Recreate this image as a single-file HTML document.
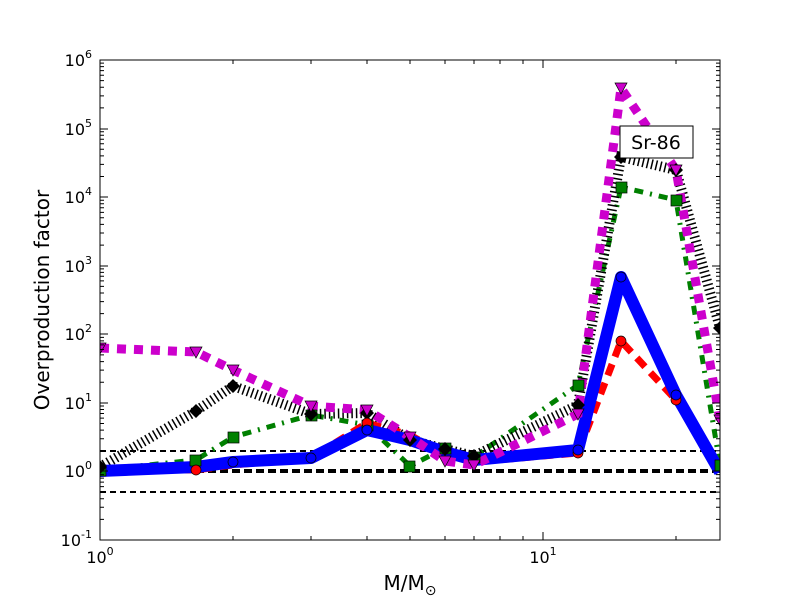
<!DOCTYPE html>
<html><head><meta charset="utf-8"><style>body{margin:0;background:#fff}svg{display:block}</style></head><body>
<svg id="s" width="800" height="600" xmlns="http://www.w3.org/2000/svg" font-family="DejaVu Sans, Liberation Sans, sans-serif">
<rect width="800" height="600" fill="#fff"/>
<defs><clipPath id="c"><rect x="100" y="60" width="620" height="480"/></clipPath></defs>
<g clip-path="url(#c)" fill="none">
<line x1="100" y1="451" x2="720" y2="451" stroke="#000" stroke-width="2" stroke-dasharray="6 4"/>
<line x1="100" y1="471" x2="720" y2="471" stroke="#000" stroke-width="4" stroke-dasharray="8 4"/>
<line x1="100" y1="492" x2="720" y2="492" stroke="#000" stroke-width="2" stroke-dasharray="6 4"/>
<polyline style="stroke:green" stroke-width="5" stroke-dasharray="9 7 2 7" points="100,470 196,460 233,437 311,415 367,425 410,466 445,448 474,457 578,385 621,187 676,200 720,465"/>
<polyline stroke="#000" stroke-width="10" stroke-dasharray="1.5 3" points="100,467 196,411 233,386 311,414 367,413 410,440 445,449 474,456 578,405 621,157 676,170 720,328"/>
<polyline stroke="red" stroke-width="7" stroke-dasharray="12 8" points="100,470 196,470 233,465 311,458 367,423 410,435 445,455 474,462 578,453 621,341 676,400 720,470"/>
<polyline stroke="blue" stroke-width="12" stroke-linejoin="round" points="100,471 196,467 233,462 311,458 367,430 410,440 445,452 474,460 578,450 621,277 676,395 720,472"/>
<polyline stroke="#c0c" stroke-width="9" stroke-dasharray="9 8" points="100,348 196,352 233,370 311,406 367,410 410,437 445,461 474,465 578,414 621,88 676,170 720,420"/>
<g fill="green" stroke="#000" stroke-width="0.7">
<rect x="95" y="465" width="11" height="11"/><rect x="190" y="455" width="11" height="11"/><rect x="228" y="432" width="11" height="11"/><rect x="306" y="410" width="11" height="11"/><rect x="362" y="420" width="11" height="11"/><rect x="404" y="461" width="11" height="11"/><rect x="440" y="443" width="11" height="11"/><rect x="469" y="452" width="11" height="11"/><rect x="573" y="380" width="11" height="11"/><rect x="616" y="182" width="11" height="11"/><rect x="671" y="195" width="11" height="11"/><rect x="715" y="460" width="11" height="11"/>
</g>
<g fill="#000">
<path d="M100,460l7,7l-7,7l-7,-7z M196,404l7,7l-7,7l-7,-7z M233,379l7,7l-7,7l-7,-7z M311,407l7,7l-7,7l-7,-7z M367,406l7,7l-7,7l-7,-7z M410,433l7,7l-7,7l-7,-7z M445,442l7,7l-7,7l-7,-7z M474,449l7,7l-7,7l-7,-7z M578,398l7,7l-7,7l-7,-7z M621,150l7,7l-7,7l-7,-7z M676,163l7,7l-7,7l-7,-7z M720,321l7,7l-7,7l-7,-7z"/>
</g>
<g fill="red" stroke="#000" stroke-width="0.7">
<circle cx="196" cy="470" r="5"/><circle cx="367" cy="423" r="5"/><circle cx="578" cy="453" r="5"/><circle cx="621" cy="341" r="5"/><circle cx="676" cy="400" r="5"/>
</g>
<g fill="blue" stroke="#000" stroke-width="0.7">
<circle cx="311" cy="458" r="5"/><circle cx="233" cy="462" r="5"/><circle cx="367" cy="430" r="5"/><circle cx="578" cy="450" r="5"/><circle cx="621" cy="277" r="5"/><circle cx="676" cy="395" r="5"/>
</g>
<g fill="#c0c" stroke="#000" stroke-width="0.7">
<path d="M94,343h12l-6,11z M190,347h12l-6,11z M227,365h12l-6,11z M305,401h12l-6,11z M361,405h12l-6,11z M404,432h12l-6,11z M439,456h12l-6,11z M468,460h12l-6,11z M572,409h12l-6,11z M615,83h12l-6,11z M670,165h12l-6,11z M714,415h12l-6,11z"/>
</g>
</g>
<rect x="100" y="60" width="620" height="480" fill="none" stroke="#000" stroke-width="1"/>
<g stroke="#000" stroke-width="1" fill="none">
<path d="M100,540v-8M543,540v-8M100,60v8M543,60v8
M233,540v-4M311,540v-4M367,540v-4M410,540v-4M445,540v-4M474,540v-4M500,540v-4M523,540v-4M676,540v-4
M233,60v4M311,60v4M367,60v4M410,60v4M445,60v4M474,60v4M500,60v4M523,60v4M676,60v4
M100,540h8M100,471h8M100,403h8M100,334h8M100,266h8M100,197h8M100,129h8M100,60h8
M720,540h-8M720,471h-8M720,403h-8M720,334h-8M720,266h-8M720,197h-8M720,129h-8M720,60h-8"/>
<path id="minor" d=""/>
</g>
<g font-size="16" fill="#000" text-anchor="end">
<text x="92" y="546">10<tspan font-size="11" dy="-8">-1</tspan></text>
<text x="92" y="477">10<tspan font-size="11" dy="-8">0</tspan></text>
<text x="92" y="409">10<tspan font-size="11" dy="-8">1</tspan></text>
<text x="92" y="340">10<tspan font-size="11" dy="-8">2</tspan></text>
<text x="92" y="272">10<tspan font-size="11" dy="-8">3</tspan></text>
<text x="92" y="203">10<tspan font-size="11" dy="-8">4</tspan></text>
<text x="92" y="135">10<tspan font-size="11" dy="-8">5</tspan></text>
<text x="92" y="66">10<tspan font-size="11" dy="-8">6</tspan></text>
</g>
<g font-size="16" text-anchor="middle">
<text x="100" y="563">10<tspan font-size="11" dy="-8">0</tspan></text>
<text x="543" y="563">10<tspan font-size="11" dy="-8">1</tspan></text>
<text x="410" y="590" font-size="20">M/M<tspan font-size="14" dy="5">⊙</tspan></text>
<text transform="translate(49,300) rotate(-90)" font-size="20">Overproduction factor</text>
</g>
<rect x="620" y="126" width="73" height="32" fill="#fff" stroke="#000"/>
<text x="656" y="149" font-size="19" text-anchor="middle">Sr-86</text>
<script>
var d="";var D=480/7;
for(var e=0;e<7;e++){for(var k=2;k<10;k++){var y=540-D*(e+Math.log10(k));d+="M100,"+y.toFixed(1)+"h4M720,"+y.toFixed(1)+"h-4";}}
document.getElementById("minor").setAttribute("d",d);
</script>
</svg>
</body></html>
